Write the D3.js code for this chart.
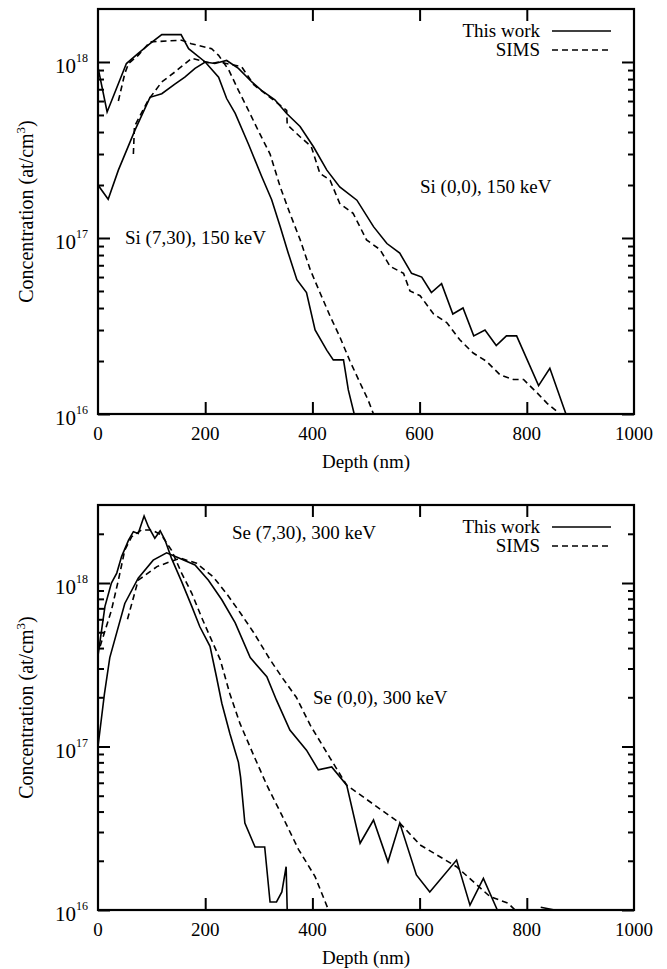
<!DOCTYPE html>
<html>
<head>
<meta charset="utf-8">
<script src="https://cdn.jsdelivr.net/npm/d3@7"></script>
<style>
body { margin: 0; background: #fff; }
svg { display: block; }
</style>
</head>
<body>
<svg id="chart" width="667" height="969" font-family="'Liberation Serif', 'Times New Roman', Times, serif"></svg>
<script>
// [depth (nm), concentration (at/cm3)]
var si730Work = [[0,9.3e17],[17,5.2e17],[53,9.8e17],[75,1.12e18],[97,1.27e18],[119,1.43e18],[155,1.43e18],[169,1.19e18],
  [200,1.0e18],[225,8.2e17],[240,6.2e17],[256,5.1e17],[281,3.4e17],[305,2.25e17],[324,1.65e17],[340,1.16e17],[355,8.2e16],
  [371,5.8e16],[389,4.9e16],[405,3.0e16],[427,2.3e16],[439,2.03e16],[458,2.03e16],[467,1.37e16],[478,1.0e16]]
var si730Sims = [[38,6.0e17],[50,8.6e17],[57,9.8e17],[75,1.09e18],[97,1.3e18],[156,1.33e18],[174,1.27e18],[212,1.19e18],
  [225,1.09e18],[244,9.0e17],[262,6.9e17],[277,5.6e17],[302,3.9e17],[321,3.0e17],[340,1.95e17],[358,1.38e17],[377,9.8e16],
  [396,6.6e16],[414,4.9e16],[433,3.6e16],[451,2.75e16],[470,2.0e16],[489,1.5e16],[504,1.2e16],[514,1.0e16]]
var si00Work = [[0,2.0e17],[19,1.66e17],[38,2.43e17],[69,4.1e17],[97,6.3e17],[119,6.6e17],[144,7.5e17],[162,8.2e17],
  [181,9.2e17],[200,1.0e18],[218,9.8e17],[240,1.02e18],[262,9.2e17],[287,7.7e17],[305,6.9e17],[330,6.1e17],[352,5.1e17],
  [377,4.3e17],[402,3.3e17],[427,2.43e17],[451,1.95e17],[483,1.64e17],[514,1.16e17],[539,9.3e16],[563,8.2e16],[585,6.3e16],
  [604,6.0e16],[622,4.9e16],[641,5.5e16],[662,3.7e16],[681,4.0e16],[701,2.78e16],[722,3.0e16],[743,2.45e16],[762,2.78e16],
  [781,2.78e16],[822,1.45e16],[843,1.82e16],[873,1.0e16]]
var si00Sims = [[66,3.0e17],[68,4.3e17],[94,6.1e17],[119,7.7e17],[144,8.8e17],[175,1.05e18],[190,1.02e18],[212,9.8e17],
  [225,1.0e18],[268,9.4e17],[291,7.4e17],[324,6.2e17],[352,5.3e17],[353,4.4e17],[377,3.76e17],[398,3.3e17],[414,2.33e17],
  [433,2.13e17],[451,1.57e17],[476,1.38e17],[501,9.75e16],[526,8.6e16],[545,6.9e16],[570,6.3e16],[582,5.0e16],[601,4.7e16],
  [626,3.7e16],[651,3.3e16],[675,2.64e16],[700,2.22e16],[725,1.99e16],[750,1.67e16],[775,1.57e16],[794,1.57e16],
  [819,1.32e16],[838,1.15e16],[862,1.0e16]]

var se730Work = [[0,3.6e17],[13,7.2e17],[25,1.0e18],[35,1.15e18],[44,1.45e18],[57,1.83e18],[66,2.06e18],[75,2.01e18],
  [86,2.57e18],[94,2.21e18],[106,1.88e18],[116,2.09e18],[125,1.83e18],[137,1.42e18],[156,1.02e18],[175,7.2e17],[190,5.4e17],
  [209,4.1e17],[221,2.67e17],[231,1.84e17],[246,1.2e17],[262,8.0e16],[266,6.5e16],[274,3.4e16],[293,2.43e16],[311,2.43e16],
  [321,1.12e16],[333,1.12e16],[343,1.29e16],[351,1.84e16],[353,1.0e16]]
var se730Sims = [[4,4.1e17],[25,6.8e17],[38,1.04e18],[50,1.59e18],[63,1.92e18],[81,2.11e18],[100,2.11e18],[118,1.97e18],
  [137,1.59e18],[156,1.15e18],[175,8.65e17],[193,6.2e17],[209,4.7e17],[228,3.4e17],[246,2.1e17],[265,1.38e17],[290,8.9e16],
  [315,5.8e16],[343,3.8e16],[374,2.35e16],[405,1.6e16],[430,1.0e16]]
var se00Work = [[0,1.0e17],[12,2.1e17],[22,3.5e17],[50,7.5e17],[75,1.07e18],[103,1.38e18],[128,1.53e18],[151,1.42e18],
  [181,1.29e18],[206,1.04e18],[231,7.9e17],[256,5.7e17],[284,3.5e17],[315,2.67e17],[333,1.92e17],[358,1.26e17],[389,9.5e16],
  [411,7.2e16],[436,7.5e16],[464,5.8e16],[489,2.56e16],[514,3.55e16],[541,1.97e16],[563,3.4e16],[594,1.64e16],[619,1.29e16],
  [669,2.02e16],[694,1.07e16],[719,1.56e16],[745,1.0e16],[790,null],[826,1.04e16],[852,1.0e16]]
var se00Sims = [[55,6.0e17],[75,1.04e18],[110,1.26e18],[153,1.42e18],[184,1.32e18],[215,1.09e18],[240,8.6e17],[265,6.6e17],
  [290,5.0e17],[321,3.4e17],[345,2.6e17],[370,2.0e17],[396,1.35e17],[433,8.5e16],[464,5.8e16],[563,3.4e16],[601,2.5e16],
  [669,1.84e16],[731,1.21e16],[765,1.1e16],[778,1.0e16]]

var xTickValues = [0, 200, 400, 600, 800, 1000]
var yDecades = [1e16, 1e17, 1e18]
var legendLabels = ['This work', 'SIMS']

var panels = [
  { top: 9, bottom: 414, yMax: 2e18, work: [si730Work, si00Work], sims: [si730Sims, si00Sims],
    notes: [{ text: 'Si (7,30), 150 keV', x: 125, y: 244 }, { text: 'Si (0,0), 150 keV', x: 420, y: 193 }] },
  { top: 505, bottom: 910, yMax: 3e18, work: [se730Work, se00Work], sims: [se730Sims, se00Sims],
    notes: [{ text: 'Se (7,30), 300 keV', x: 232, y: 539 }, { text: 'Se (0,0), 300 keV', x: 313, y: 704 }] }
]

var svg = d3.select('#chart')
var left = 98, right = 634
var fs = 19

panels.forEach(function(p, i) {
  var x = d3.scaleLinear().domain([0, 1000]).range([left, right])
  var y = d3.scaleLog().domain([1e16, p.yMax]).range([p.bottom, p.top])
  var g = svg.append('g')

  var minor = []
  yDecades.forEach(function(d) {
    for (var m = 2; m <= 9; m++) if (m * d < p.yMax) minor.push(m * d)
  })

  function strip(sel) {
    sel.select('.domain').remove()
    sel.selectAll('line').attr('stroke', '#000').attr('stroke-width', 2)
  }
  g.append('g').attr('transform', 'translate(' + left + ',0)')
    .call(d3.axisLeft(y).tickValues(yDecades).tickSize(-12).tickFormat('')).call(strip)
  g.append('g').attr('transform', 'translate(' + left + ',0)')
    .call(d3.axisLeft(y).tickValues(minor).tickSize(-6).tickFormat('')).call(strip)
  g.append('g').attr('transform', 'translate(' + right + ',0)')
    .call(d3.axisRight(y).tickValues(yDecades).tickSize(-12).tickFormat('')).call(strip)
  g.append('g').attr('transform', 'translate(' + right + ',0)')
    .call(d3.axisRight(y).tickValues(minor).tickSize(-6).tickFormat('')).call(strip)
  g.append('g').attr('transform', 'translate(0,' + p.bottom + ')')
    .call(d3.axisBottom(x).tickValues(xTickValues.slice(1, -1)).tickSize(-12).tickFormat('')).call(strip)
  g.append('g').attr('transform', 'translate(0,' + p.top + ')')
    .call(d3.axisTop(x).tickValues(xTickValues.slice(1, -1)).tickSize(-12).tickFormat('')).call(strip)
  g.selectAll('.tick text').remove()

  g.append('rect')
    .attr('x', left).attr('y', p.top)
    .attr('width', right - left).attr('height', p.bottom - p.top)
    .attr('fill', 'none').attr('stroke', '#000').attr('stroke-width', 2.2)

  // tick labels
  g.selectAll('.xl').data(xTickValues).enter().append('text')
    .attr('x', d => x(d)).attr('y', p.bottom + 26)
    .attr('text-anchor', 'middle').attr('font-size', fs)
    .text(d => d)
  var yl = g.selectAll('.yl').data(yDecades).enter().append('text')
    .attr('x', 88).attr('y', d => y(d) + 11)
    .attr('text-anchor', 'end').attr('font-size', 21)
  yl.append('tspan').text('10')
  yl.append('tspan').attr('dy', -11).attr('font-size', 12).text(d => Math.round(Math.log10(d)))

  // axis titles
  g.append('text')
    .attr('x', (left + right) / 2).attr('y', p.bottom + 54)
    .attr('text-anchor', 'middle').attr('font-size', fs)
    .text('Depth (nm)')
  var yt = g.append('text')
    .attr('transform', 'translate(33,' + (p.top + p.bottom) / 2 + ') rotate(-90)')
    .attr('text-anchor', 'middle').attr('font-size', 20)
  yt.append('tspan').text('Concentration (at/cm')
  yt.append('tspan').attr('dy', -8).attr('font-size', 13).text('3')
  yt.append('tspan').attr('dy', 8).text(')')

  // curves
  var clipId = 'clip' + i
  g.append('clipPath').attr('id', clipId).append('rect')
    .attr('x', left).attr('y', p.top).attr('width', right - left).attr('height', p.bottom - p.top)
  var line = d3.line()
    .defined(d => d[1] != null)
    .x(d => x(d[0]))
    .y(d => y(d[1]))
  var curves = g.append('g').attr('clip-path', 'url(#' + clipId + ')')
  p.work.forEach(function(s) {
    curves.append('path').attr('d', line(s))
      .attr('fill', 'none').attr('stroke', '#000').attr('stroke-width', 1.6)
  })
  p.sims.forEach(function(s) {
    curves.append('path').attr('d', line(s))
      .attr('fill', 'none').attr('stroke', '#000').attr('stroke-width', 1.6)
      .attr('stroke-dasharray', '6,4')
  })

  // annotations
  p.notes.forEach(function(n) {
    g.append('text').attr('x', n.x).attr('y', n.y).attr('font-size', fs).text(n.text)
  })

  // legend
  legendLabels.forEach(function(lab, k) {
    var ly = p.top + 22 + k * 19
    g.append('text').attr('x', 540).attr('y', ly + 6)
      .attr('text-anchor', 'end').attr('font-size', fs).text(lab)
    g.append('line').attr('x1', 552).attr('x2', 611).attr('y1', ly).attr('y2', ly)
      .attr('stroke', '#000').attr('stroke-width', 1.6)
      .attr('stroke-dasharray', k ? '6,4' : null)
  })
})
</script>
</body>
</html>
